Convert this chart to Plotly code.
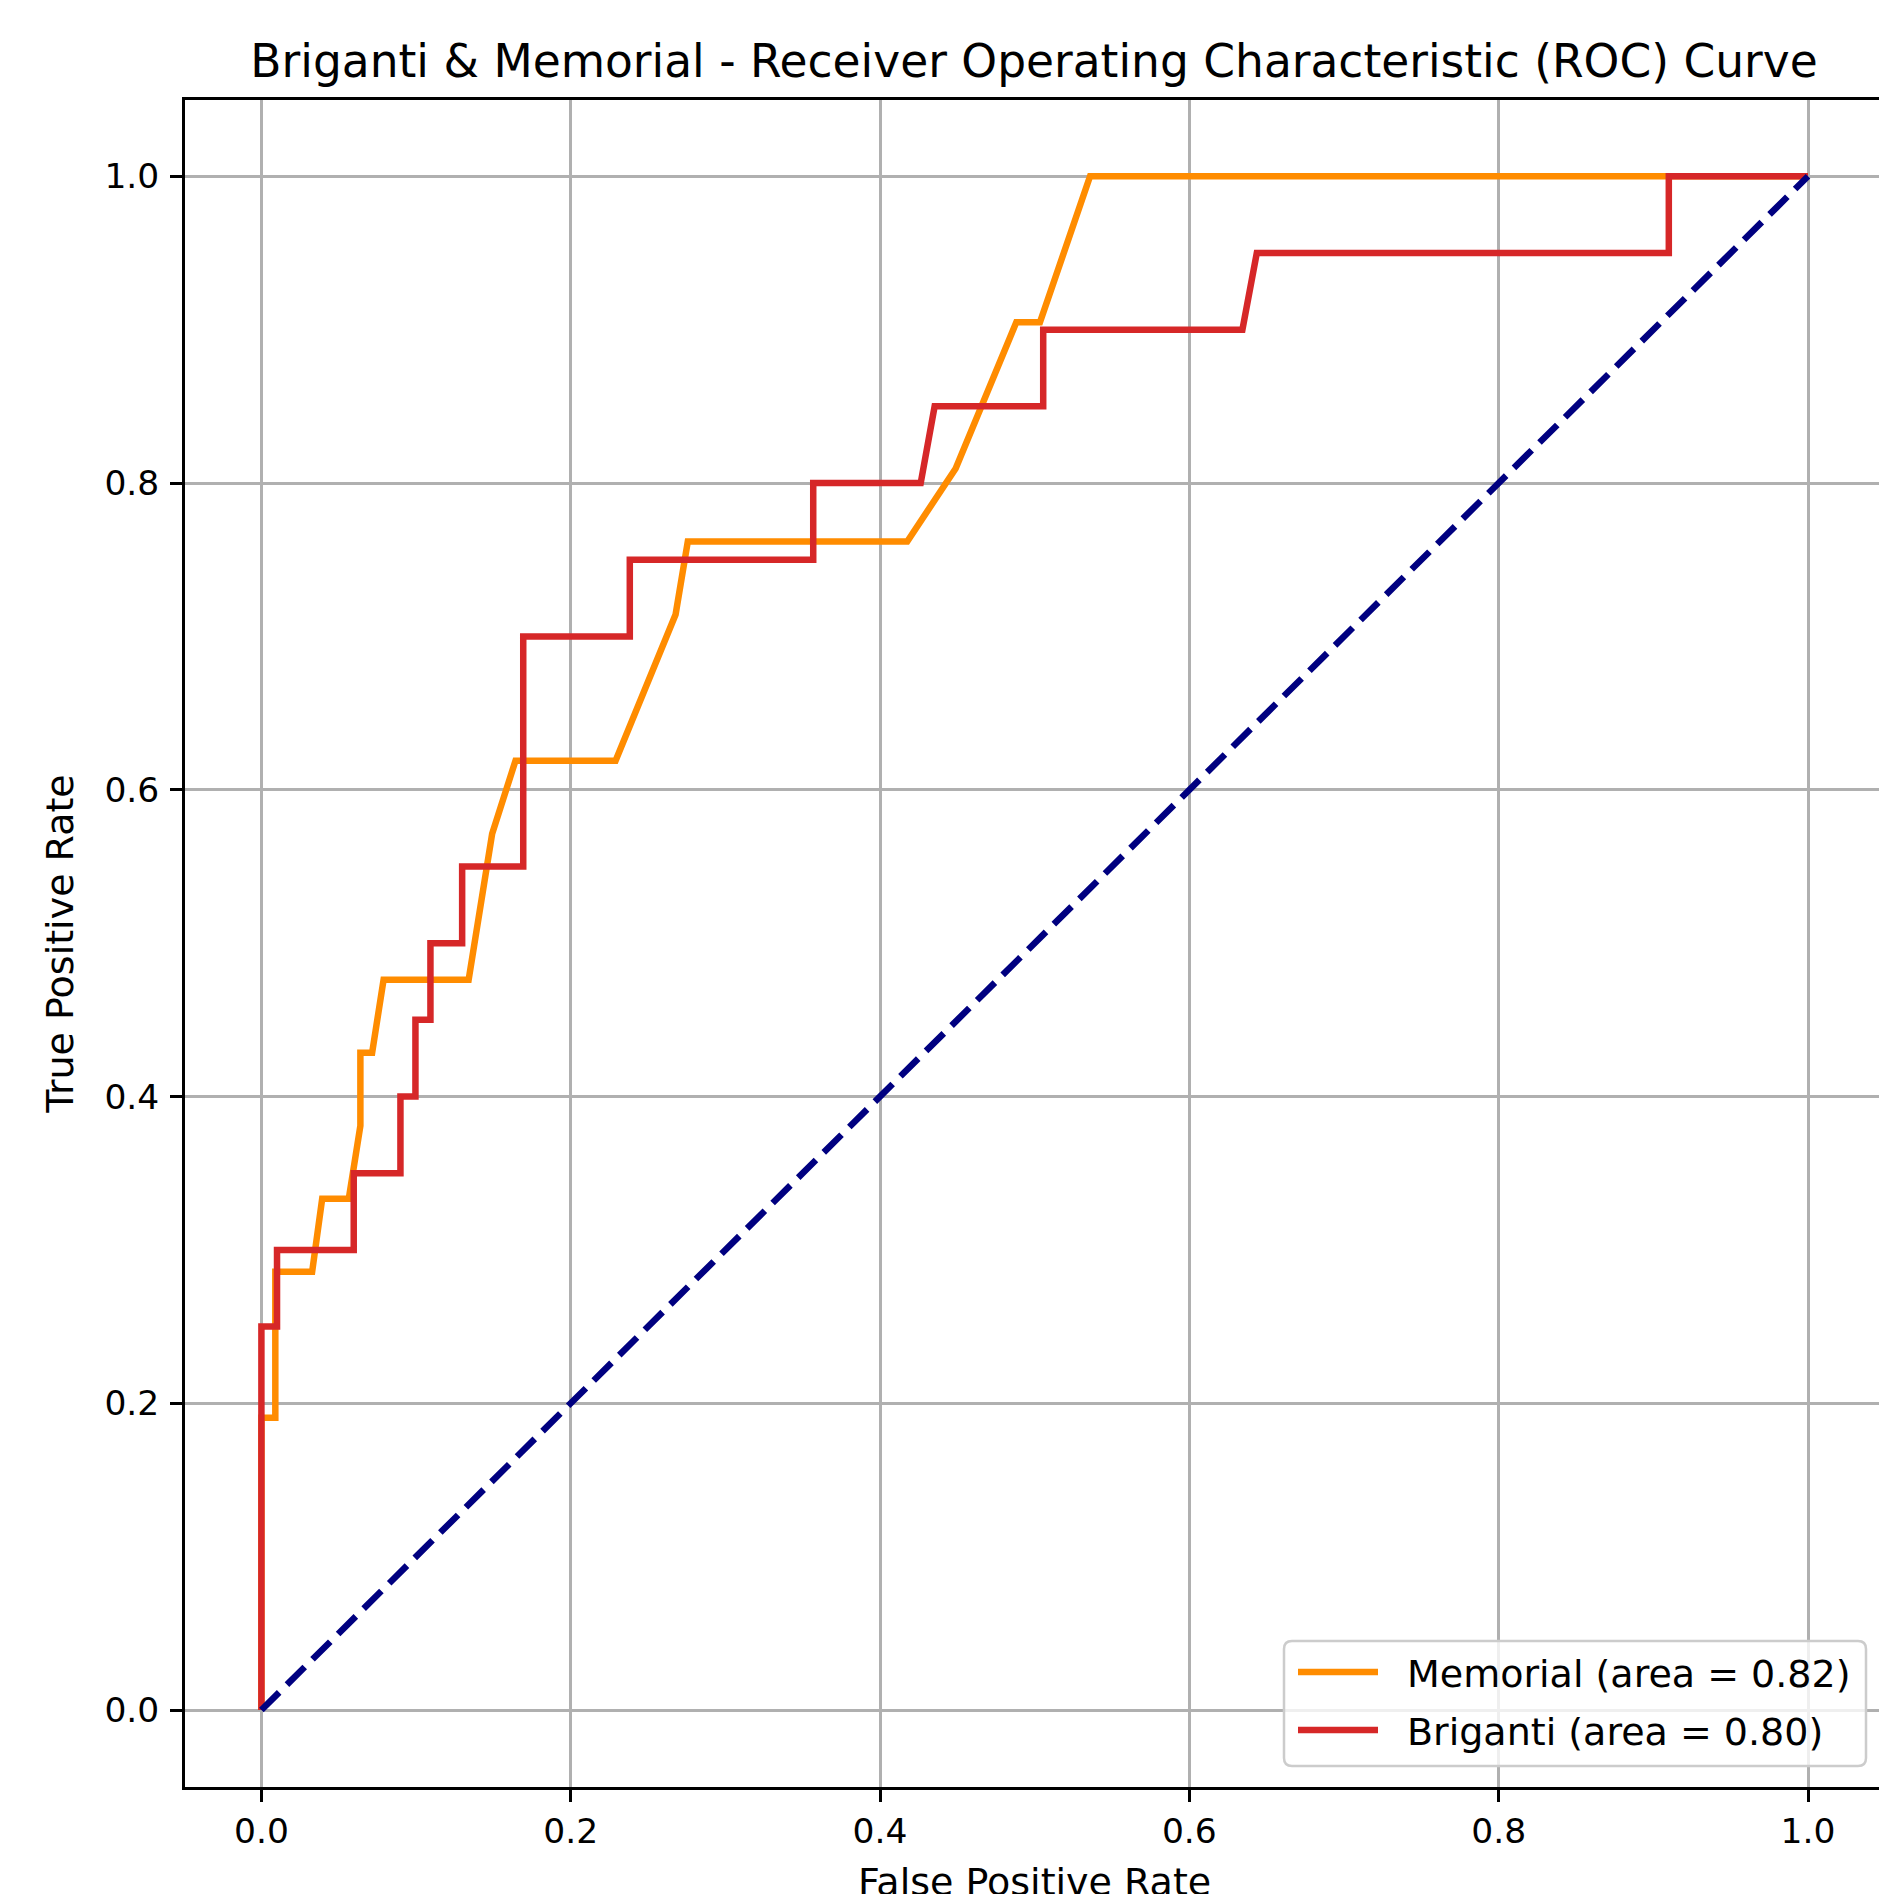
import plotly.graph_objects as go

# ---------------- data ----------------
memorial_fpr = [0.0, 0.0, 0.009, 0.009, 0.0328, 0.0393, 0.0565, 0.064, 0.064, 0.0716,
                0.079, 0.134, 0.1492, 0.1643, 0.229, 0.2678, 0.2757, 0.4176, 0.4489,
                0.4881, 0.5034, 0.5358, 1.0]
memorial_tpr = [0.0, 0.1905, 0.1905, 0.2857, 0.2857, 0.3333, 0.3333, 0.381, 0.4286, 0.4286,
                0.4762, 0.4762, 0.5714, 0.619, 0.619, 0.7143, 0.7619, 0.7619, 0.8095,
                0.9048, 0.9048, 1.0, 1.0]

briganti_fpr = [0.0, 0.0, 0.0101, 0.0101, 0.0597, 0.0597, 0.0899, 0.0899, 0.0996, 0.0996,
                0.1093, 0.1093, 0.1298, 0.1298, 0.1693, 0.1693, 0.2382, 0.2382, 0.3568,
                0.3568, 0.4263, 0.4353, 0.5055, 0.5055, 0.6343, 0.6436, 0.910, 0.910, 1.0]
briganti_tpr = [0.0, 0.25, 0.25, 0.30, 0.30, 0.35, 0.35, 0.40, 0.40, 0.45,
                0.45, 0.50, 0.50, 0.55, 0.55, 0.70, 0.70, 0.75, 0.75,
                0.80, 0.80, 0.85, 0.85, 0.90, 0.90, 0.95, 0.95, 1.0, 1.0]

chance_fpr = [0.0, 1.0]
chance_tpr = [0.0, 1.0]

series_names = ["Memorial", "Briganti"]
series_auc = [0.82, 0.80]
series_colors = ["#ff8c00", "#d62728"]

tick_values = [0.0, 0.2, 0.4, 0.6, 0.8, 1.0]
tick_labels = ["0.0", "0.2", "0.4", "0.6", "0.8", "1.0"]

title_text = "Briganti & Memorial - Receiver Operating Characteristic (ROC) Curve"
x_title = "False Positive Rate"
y_title = "True Positive Rate"

# ---------------- layout geometry ----------------
W, H = 1879, 1894
ML, MT, MB, MR = 185, 100, 107, 0
FONT = "DejaVu Sans"
LW = 6.5
PLOT_W = W - ML - MR
PLOT_H = H - MT - MB

# pixel -> data helpers (for the hand-drawn matplotlib-style legend)
X0PX, XPPU = 261.4, 1546.6
Y0PX, YPPU = 1710.0, 1533.7


def dx(px):
    return (px - X0PX) / XPPU


def dy(py):
    return (Y0PX - py) / YPPU


def rounded_rect(x0, y0, x1, y1, r):
    pts = [
        f"M{dx(x0 + r)},{dy(y0)}",
        f"L{dx(x1 - r)},{dy(y0)}",
        f"Q{dx(x1)},{dy(y0)} {dx(x1)},{dy(y0 + r)}",
        f"L{dx(x1)},{dy(y1 - r)}",
        f"Q{dx(x1)},{dy(y1)} {dx(x1 - r)},{dy(y1)}",
        f"L{dx(x0 + r)},{dy(y1)}",
        f"Q{dx(x0)},{dy(y1)} {dx(x0)},{dy(y1 - r)}",
        f"L{dx(x0)},{dy(y0 + r)}",
        f"Q{dx(x0)},{dy(y0)} {dx(x0 + r)},{dy(y0)}",
        "Z",
    ]
    return " ".join(pts)


fig = go.Figure()

fig.add_trace(go.Scatter(x=memorial_fpr, y=memorial_tpr, mode="lines",
                         name=f"{series_names[0]} (area = {series_auc[0]:.2f})",
                         line=dict(color=series_colors[0], width=LW), showlegend=False))
fig.add_trace(go.Scatter(x=briganti_fpr, y=briganti_tpr, mode="lines",
                         name=f"{series_names[1]} (area = {series_auc[1]:.2f})",
                         line=dict(color=series_colors[1], width=LW), showlegend=False))
fig.add_trace(go.Scatter(x=chance_fpr, y=chance_tpr, mode="lines",
                         line=dict(color="#000080", width=LW, dash="25px,11px"),
                         showlegend=False, hoverinfo="skip"))

# ---------------- matplotlib-style legend (lower right) ----------------
shapes = [dict(type="path", xref="x", yref="y", layer="above",
               path=rounded_rect(1284, 1641, 1866, 1766, 8),
               fillcolor="rgba(255,255,255,0.8)",
               line=dict(color="#cccccc", width=2.5))]
annotations = []
row_y = [1672, 1730]
for i in range(len(series_names)):
    shapes.append(dict(type="line", xref="x", yref="y", layer="above",
                       x0=dx(1298), x1=dx(1378), y0=dy(row_y[i]), y1=dy(row_y[i]),
                       line=dict(color=series_colors[i], width=LW)))
    annotations.append(dict(xref="x", yref="y", x=dx(1405), y=dy(row_y[i] + 2),
                            xanchor="left", yanchor="middle", showarrow=False,
                            text=f"{series_names[i]} (area = {series_auc[i]:.2f})",
                            font=dict(family=FONT, size=38, color="#000000")))

# x-axis title (placed like matplotlib's, partly below the picture edge)
annotations.append(dict(xref="paper", yref="paper",
                        x=(1034 - ML) / PLOT_W, y=-(1858 - (H - MB)) / PLOT_H,
                        xanchor="center", yanchor="top", showarrow=False,
                        text=x_title,
                        font=dict(family=FONT, size=38, color="#000000")))

axis_common = dict(
    showgrid=True, gridcolor="#b0b0b0", gridwidth=2.7,
    zeroline=False, showline=True, linecolor="#000000", linewidth=2.7,
    ticks="outside", ticklen=12, tickwidth=2.7, tickcolor="#000000",
    tickvals=tick_values, ticktext=tick_labels,
    tickfont=dict(family=FONT, size=34.5, color="#000000"),
    automargin=False,
)

fig.update_layout(
    width=W, height=H,
    margin=dict(l=ML, r=MR, t=MT, b=MB, pad=0),
    paper_bgcolor="#ffffff", plot_bgcolor="#ffffff",
    font=dict(family=FONT, color="#000000"),
    title=dict(text=title_text, x=(1034 - ML) / PLOT_W, xref="paper",
               xanchor="center", y=1 - 61.0 / H, yref="container", yanchor="middle",
               font=dict(family=FONT, size=45.5, color="#000000")),
    xaxis=dict(range=[(ML - X0PX) / XPPU, (W - MR - X0PX) / XPPU], mirror=True,
               **axis_common),
    yaxis=dict(range=[(Y0PX - (H - MB)) / YPPU, (Y0PX - MT) / YPPU], mirror=False,
               ticklabelstandoff=4,
               title=dict(text=y_title, standoff=20,
                          font=dict(family=FONT, size=38, color="#000000")),
               **axis_common),
    shapes=shapes,
    annotations=annotations,
    showlegend=False,
)

fig.write_html("out.html",
               config={"displayModeBar": False},
               post_script="document.body.style.margin='0px';document.body.style.overflow='hidden';")
